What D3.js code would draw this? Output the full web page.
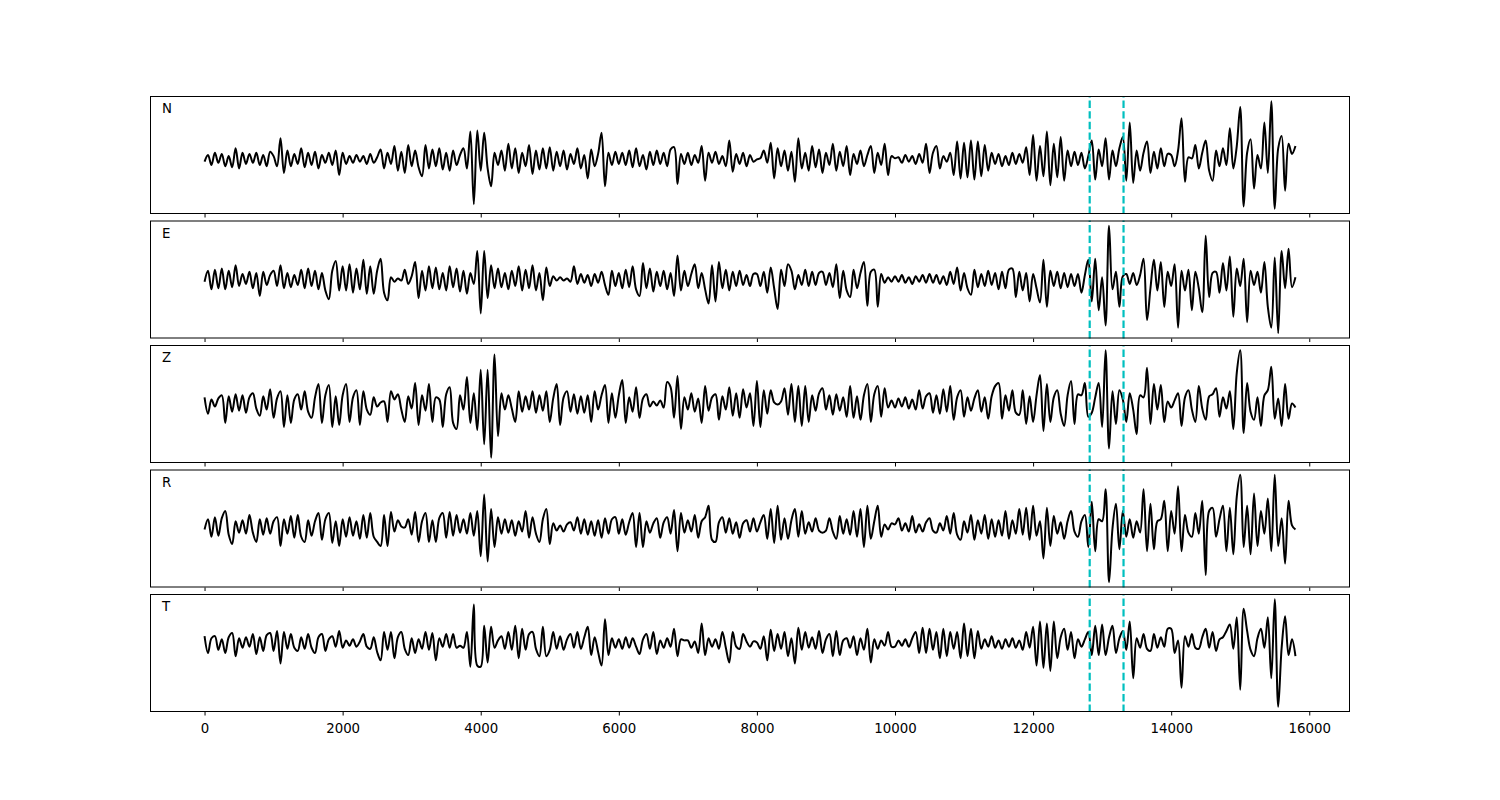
<!DOCTYPE html>
<html>
<head>
<meta charset="utf-8">
<script src="https://cdn.jsdelivr.net/npm/d3@7"></script>
<style>
  body { margin: 0; background: #ffffff; }
  svg { display: block; font-family: "DejaVu Sans", sans-serif; }
</style>
</head>
<body>
<svg id="chart" width="1500" height="800"></svg>
<script>
// ---------------- data ----------------
const components = ["N", "E", "Z", "R", "T"];
const sampleStep = 50;            // samples between stored values
const markers = [12820, 13310];   // picked phase times (dashed lines)
const xTicks = [0, 2000, 4000, 6000, 8000, 10000, 12000, 14000, 16000];

const traceN = [
  -2, 4, -5, 6, -3, 5, -6, 3, -7, 10, -8, 6, -4, 5, -3, 6, -5, 4, -6, 7,
  3, -6, 19, -12, 8, -6, 5, -4, 10, -7, 6, -5, 7, -8, 4, -3, 6, -5, 8, -14,
  6, -4, 3, -3, 4, -2, 3, -4, 5, -3, 2, 9, -8, 6, -4, 12, -10, 7, -12, 13,
  -6, 8, -7, -15, 13, -8, 9, -6, 10, -9, 6, -10, 8, -5, 4, 10, -8, 25, -40, 26,
  -10, 24, -8, -24, 6, -5, 8, -10, 14, -8, 10, -12, 6, -6, 13, -13, 8, -9, 10, -8,
  11, -10, 7, -6, 8, -9, 5, -4, 10, -8, 4, -17, 9, -6, 5, 24, -24, 6, -5, 7,
  -4, 6, -5, 8, -7, 10, -6, 4, -9, 7, -5, 8, -4, 6, -6, 9, 11, -22, 5, -4,
  6, -5, 4, -3, 12, -19, 6, -3, 7, -4, 3, -6, 17, -11, 5, -4, 6, -6, 4, -2,
  0, 1, 8, -3, 15, -17, 10, -6, 8, -10, 7, -20, 19, -8, 6, -10, 12, -7, 9, -12,
  6, -5, 14, -10, 7, -6, 12, -14, 5, -4, 8, -6, 4, 12, -12, 6, -5, 14, -14, 3,
  1, 2, -3, 4, -2, 3, -4, 5, -3, 14, -12, 6, 12, -8, 3, -2, 6, -14, 16, -17,
  15, -16, 17, -18, 16, -15, 13, -10, 6, -4, 5, -6, 3, -5, 6, -4, 5, -3, 11, -14,
  22, -19, 12, -15, 25, -23, 14, -16, 20, -19, 8, -6, 7, -5, 6, -8, 3, 17, -18, 9,
  -6, 19, -18, 8, -6, 10, 20, -19, 33, -21, 8, -10, 6, 16, -12, 7, -8, 10, -6, 5,
  4, -6, 8, 37, -20, 2, 1, 13, -8, 6, 17, -10, -19, 8, -6, 10, -5, 28, -8, 12,
  47, -42, 6, 18, -26, 4, -8, 33, -12, 52, -44, 10, 21, -28, 14, 5, 12
];

const traceE = [
  -2, 8, -9, 9, -8, 10, -9, 8, -7, 13, -6, 5, -4, 7, -8, 6, -15, 7, -5, 4,
  8, -6, 13, -8, 6, -7, 4, -5, 9, -8, 10, -6, 8, -9, 6, -10, -18, 8, 17, -10,
  12, -10, 14, -12, 10, -9, 18, -13, 12, -13, 8, 19, -12, -19, 2, -2, 1, -1, 9, -4,
  3, 16, -17, 8, -10, 12, -8, 11, -9, 6, -10, 12, -7, 10, -11, 8, -13, 6, -4, 26,
  -31, 26, -17, 13, -8, 10, -7, 6, -9, 8, -6, 12, -10, 9, -8, 13, -10, 6, -19, 11,
  -6, 3, -1, 2, -1, 1, -2, 12, -4, 5, -3, 4, -6, 5, -3, 7, -5, -14, 8, -6,
  6, -8, 9, -7, 12, -9, -15, 15, -8, 10, -11, 7, -6, 8, -9, 6, -15, 22, -10, 8,
  -6, 5, 14, -8, 6, -9, -22, 13, -20, 16, -8, 9, -10, 7, -6, 8, -5, 4, -6, 5,
  5, -6, 7, -12, 11, -8, -27, 9, -6, 14, 8, -9, 4, -5, 9, -6, 7, -5, 6, 7,
  -5, 6, -7, 14, -17, 8, -10, -16, 9, -8, 6, 16, -24, 7, 9, -25, 5, -3, 2, -2,
  3, -2, 4, -3, 2, -4, 3, -2, 4, -3, 5, -3, 4, -4, 3, -5, 7, -4, 11, -10,
  6, -8, -14, 9, -7, 5, -6, 8, -5, 6, -9, 7, -8, 9, 10, -16, 7, -10, 6, -20,
  5, -8, -21, 18, -25, 8, -6, 7, -8, 6, -7, 5, -6, 5, -12, 4, 18, -20, 19, -28,
  2, -42, 49, -9, 7, -25, 3, 5, -4, 6, -5, 4, 19, -37, -8, 18, -10, 16, -25, 7,
  -6, 14, -44, 8, -10, 9, -28, 7, -8, -30, 40, -16, 6, 7, -12, 15, -10, 21, -34, 10,
  -6, 19, -39, 8, -5, 7, -12, 16, -25, -44, 20, -49, 26, -8, 28, -7, 2
];

const traceZ = [
  6, -10, 4, -3, 5, 8, -19, 7, -8, 9, -7, 8, -9, 6, 10, -5, -12, 7, -6, 14,
  -14, 5, 12, -23, 8, -19, 4, 9, -6, 12, -8, -14, 6, 19, -19, 8, 18, -23, 7, -21,
  8, 19, -18, 6, 13, -21, 12, -6, -11, 6, -3, 1, 2, -18, 12, 4, 9, -6, -18, 7,
  -5, 20, -21, 8, -7, 19, -18, 6, 4, -23, 9, 16, -19, -25, 8, -6, 26, -19, 10, -26,
  33, -40, 33, -53, 48, -32, 10, -6, 8, -5, -18, 12, -8, 7, -6, 12, -9, 8, -7, 12,
  -18, 5, 19, -21, 6, 12, -8, 9, -10, 7, -9, 8, -18, 12, -6, 8, 18, -19, 10, -14,
  8, 23, -19, 6, -8, 16, -14, 5, 9, -3, 2, -2, 3, -4, 21, 16, -14, 27, -25, 6,
  -6, 10, -8, 5, -19, 17, -7, 6, 9, -16, 7, -6, 16, -12, 10, -14, 14, -4, 10, -22,
  22, -23, 13, -10, 13, 1, -1, 2, 15, -11, 19, -18, 17, -22, 17, -18, 8, -7, 10, 15,
  -6, 8, -11, 9, -7, 6, -13, 17, -14, 7, -16, 8, 19, -18, 9, 17, -13, 15, -4, 3,
  -4, 5, -3, 6, -5, 4, -6, 13, -5, 7, 10, -9, 8, -10, 14, -8, 17, -16, 6, 13,
  -13, 6, -7, 5, 13, -8, 6, -15, 7, 17, 20, -15, 8, -7, 13, -9, -11, 13, -20, 7,
  -18, 8, 28, -27, 19, -18, 6, 13, -10, -22, 8, 22, -20, 9, 8, 20, -13, -9, 6, 20,
  -23, 52, -44, 12, -20, 13, 4, -18, 10, -6, -30, 8, 6, 35, -20, 19, -6, 18, -18, 2,
  -4, 3, 10, -22, 6, 13, -6, -18, 17, -5, -16, 7, 9, 15, -13, 6, -5, 12, -25, 30,
  52, -29, 20, -8, -16, 6, -22, 8, 13, 36, -15, 5, -22, 19, -15, 0, -4
];

const traceR = [
  -2, 8, -9, 10, -8, 9, 16, -7, -16, 6, -5, 7, -6, 12, -5, -14, 8, -7, 9, -6,
  6, 10, -18, 8, -6, 11, -10, 12, -9, -14, 7, -8, 6, 14, -12, 8, 14, -15, 6, -18,
  8, -9, 10, -8, 6, -11, 12, -10, 14, -9, -14, -18, 12, -18, 15, -4, 7, 1, 0, 8,
  -7, 15, -14, 6, 14, -14, 7, -14, 9, 14, -10, 15, -8, 12, -5, 8, -6, 14, -8, 16,
  -28, 32, -33, 18, -19, 10, -6, 8, -5, 7, -8, 6, -4, 16, -10, 10, -6, -14, 8, 18,
  -16, 4, -3, 2, -4, 3, 5, -3, 10, -6, 8, -7, 6, -8, 7, -10, 9, -6, 8, 10,
  -6, 8, -7, 5, 14, -19, 14, -19, 6, -5, 4, 9, -10, 5, 10, -6, 17, -23, 14, -5,
  7, -4, 12, -10, 6, 10, 21, -12, -14, 5, 10, -5, 9, -6, 5, -10, 4, 7, -4, 9,
  -4, 5, 12, -11, 18, -15, 21, -12, 9, -11, 7, 18, -9, 16, -6, 5, -4, 9, -3, -5,
  -3, 9, -4, -11, 11, -6, 8, -7, 16, -9, 18, -19, 21, -11, 6, 21, -9, 3, -2, 4,
  3, 9, -3, 4, -4, 11, -5, 3, -4, 5, 9, -3, -5, 4, -3, 11, -6, 14, -7, -12,
  6, -5, 12, -12, 7, -6, 12, -11, 8, -9, 7, -8, 16, -11, 7, -6, 18, -7, 19, -12,
  21, -8, 6, -30, 19, -18, 11, -6, 5, -11, 6, 16, -4, -9, 6, 12, -19, 25, -23, 8,
  6, 37, -53, -1, 23, -21, 16, -9, 8, -10, 6, -5, 37, -23, 23, -21, 6, 8, 26, -23,
  16, -6, 40, -23, 12, -5, -9, 14, -6, 26, -46, 16, 19, -9, 8, 21, -23, 19, -26, 30,
  51, -19, 21, -26, 33, -18, 16, -6, 28, -23, 51, -18, 9, -35, 26, 2, -2
];

const traceT = [
  7, -9, 5, 7, -6, 4, -9, 6, 10, -12, 5, -4, 6, -3, 9, -10, 6, -7, 8, 10,
  -7, 12, -19, 11, -5, 9, -4, -7, 6, -5, 9, -4, -9, 6, 9, -7, 4, 7, -3, 12,
  -4, 3, -2, 4, -3, 2, 9, -3, -5, 6, -8, -16, 11, -6, 11, -14, 6, 11, -5, -11,
  5, -9, 4, -5, 11, -6, 10, -16, 5, -3, 9, -4, 9, -4, -2, -4, 11, -22, 37, -21,
  -22, 17, -18, 16, -4, 3, 7, -5, 11, -6, 17, -14, 14, -6, 9, 11, -5, -12, 16, -12,
  -6, 11, -5, 7, -6, 4, 9, -4, 11, -5, 6, 16, -11, 6, -8, -21, 23, -11, 5, -4,
  4, -5, 6, -4, 5, -3, -10, 4, 9, -5, 11, -10, 3, -4, 5, -3, 14, -12, 4, 3,
  3, -4, 2, -9, 19, -11, 5, -3, 4, -5, 11, -4, -18, 11, -3, -5, 9, 2, -3, 2,
  1, -5, 7, -16, 13, -7, 9, -5, 11, -12, 5, -19, 15, -6, 11, -4, 6, -5, 12, -9,
  4, 9, -12, 12, -11, 3, 5, -4, 7, -11, 5, -6, 14, -18, 4, -5, 3, -2, 11, -3,
  -3, 3, -2, 4, -3, 5, 11, -9, 15, -9, 14, -6, 11, -14, 14, -12, 11, -5, 11, -14,
  19, -12, 14, -14, 12, -5, 4, -3, 7, -4, 3, -5, 4, -3, 5, -4, 3, -6, 11, -4,
  16, -21, 21, -23, 19, -26, 21, -14, 6, 14, -6, 11, -14, 4, -3, 4, 11, -11, 17, -11,
  18, -11, 6, 17, -9, 5, 12, -6, 21, -33, 5, -4, 9, -5, -7, 9, -4, 6, -3, 14,
  14, -9, 3, -42, 7, -3, 9, -4, -5, 6, 14, -4, 11, -7, 4, 6, 12, 18, -5, 25,
  -44, 33, 12, -6, -12, 5, 14, -4, 25, -33, 42, -60, -4, 26, -11, 4, -12
];

const traces = [traceN, traceE, traceZ, traceR, traceT];

// ---------------- layout ----------------
const svg = d3.select("#chart");
const left = 150, right = 1350, top0 = 96, panelH = 118, panelStep = 124.5;

const maxSample = d3.max(traces, t => (t.length - 1) * sampleStep);
const xPad = maxSample * 0.05;
const x = d3.scaleLinear().domain([-xPad, maxSample + xPad]).range([left, right]);

traces.forEach((vals, k) => {
  const top = top0 + k * panelStep;
  const bottom = top + panelH;
  const [mn, mx] = d3.extent(vals);
  const pad = (mx - mn) * 0.05;
  const y = d3.scaleLinear().domain([mn - pad, mx + pad]).range([bottom, top]);

  const g = svg.append("g");
  const clipId = "clip" + k;
  svg.append("clipPath").attr("id", clipId)
    .append("rect").attr("x", left).attr("y", top).attr("width", right - left).attr("height", panelH);

  const line = d3.line()
    .x((d, i) => x(i * sampleStep))
    .y(d => y(d))
    .curve(d3.curveCatmullRom.alpha(0.5));

  g.append("path")
    .datum(vals)
    .attr("clip-path", `url(#${clipId})`)
    .attr("fill", "none")
    .attr("stroke", "#000000")
    .attr("stroke-width", 2)
    .attr("stroke-linejoin", "round")
    .attr("d", line);

  g.selectAll("line.marker")
    .data(markers)
    .join("line")
    .attr("class", "marker")
    .attr("x1", d => x(d)).attr("x2", d => x(d))
    .attr("y1", bottom).attr("y2", top)
    .attr("stroke", "#00bfbf")
    .attr("stroke-width", 2.2)
    .attr("stroke-dasharray", "7.4,3.2");

  // frame
  g.append("rect")
    .attr("x", left + 0.5).attr("y", top + 0.5)
    .attr("width", right - left - 1).attr("height", panelH - 1)
    .attr("fill", "none").attr("stroke", "#000").attr("stroke-width", 1);

  // x axis
  const axis = d3.axisBottom(x).tickValues(xTicks).tickSize(3.5).tickPadding(3.5)
    .tickFormat(k === traces.length - 1 ? d3.format("d") : () => "");
  const ax = svg.append("g").attr("transform", `translate(0,${bottom})`).call(axis);
  ax.select(".domain").remove();
  ax.selectAll(".tick line").attr("stroke", "#000").attr("stroke-width", 1);
  ax.selectAll(".tick text")
    .attr("fill", "#000")
    .attr("font-family", "DejaVu Sans, sans-serif")
    .attr("font-size", "13.33px")
    .attr("y", 21).attr("dy", 0);

  // component label
  svg.append("text")
    .attr("x", left + 12).attr("y", top + 17)
    .attr("font-family", "DejaVu Sans, sans-serif")
    .attr("font-size", "13.33px")
    .attr("fill", "#000")
    .text(components[k]);
});
</script>
</body>
</html>
